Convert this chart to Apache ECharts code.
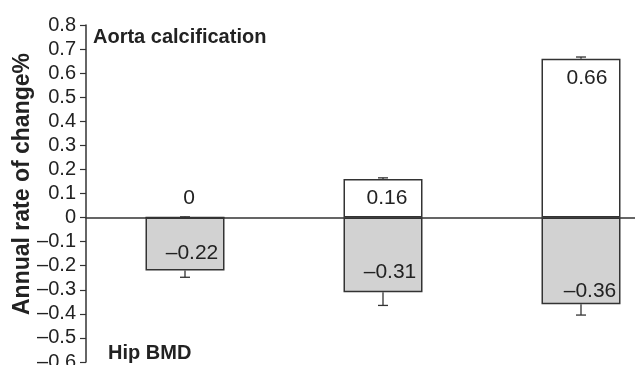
<!DOCTYPE html>
<html><head><meta charset="utf-8">
<script src="https://cdn.jsdelivr.net/npm/echarts@6/dist/echarts.min.js"></script>
<style>html,body{margin:0;padding:0;background:#fff}#c{width:635px;height:365px}</style>
</head><body><div id="c"></div>
<script>
const categories = ['1', '2', '3'];
const aortaValues = [0, 0.16, 0.66];
const aortaErrEnd = [0.003, 0.165, 0.667];
const hipValues = [-0.22, -0.31, -0.36];
const hipErrEnd = [-0.248, -0.365, -0.405];
const yTicks = {min: -0.6, max: 0.8, interval: 0.1};
const yTitle = 'Annual rate of change%';

const fmt = v => Math.abs(v) < 1e-9 ? '0' : (v < 0 ? '\u2013' : '') + Math.abs(v).toFixed(1);
const fmtLabel = v => v === 0 ? '0' : (v < 0 ? '\u2013' : '') + Math.abs(v).toFixed(2);

const aortaLabelCfg = [
  {position: 'top', distance: 8, offset: [4, 0]},
  {position: 'insideTop', distance: 9, offset: [4, 0]},
  {position: 'insideTop', distance: 9, offset: [6, 0]}
];
const hipLabelCfg = [
  {position: 'insideBottom', distance: 7, offset: [7, 0]},
  {position: 'insideBottom', distance: 9, offset: [7, 0]},
  {position: 'insideBottom', distance: 3, offset: [9, 0]}
];

const errData = [];
categories.forEach((c, i) => {
  errData.push([i, aortaValues[i], aortaErrEnd[i]]);
  errData.push([i, hipValues[i], hipErrEnd[i]]);
});

const chart = echarts.init(document.getElementById('c'));
const FF = 'Liberation Sans, Arial, sans-serif';
const labelFont = {fontFamily: FF, fontSize: 21, color: '#222'};
chart.setOption({
  animation: false,
  grid: {left: 86, top: 25, width: 594, height: 337, containLabel: false, outerBoundsMode: 'none'},
  xAxis: {
    type: 'category', data: categories,
    axisLine: {onZero: true, lineStyle: {color: '#333', width: 1.5}},
    axisTick: {show: false}, axisLabel: {show: false}, splitLine: {show: false}
  },
  yAxis: {
    type: 'value', min: yTicks.min, max: yTicks.max, interval: yTicks.interval,
    axisLine: {show: true, lineStyle: {color: '#333', width: 1.5}},
    axisTick: {show: true, length: 6, lineStyle: {color: '#333', width: 1.2}},
    axisLabel: {formatter: fmt, margin: 10, fontFamily: FF, fontSize: 20, color: '#222'},
    splitLine: {show: false}
  },
  series: [
    {
      type: 'bar', name: 'Aorta calcification', barWidth: 79, barGap: '-100%',
      data: aortaValues.map((v, i) => ({value: v, label: Object.assign({show: true}, aortaLabelCfg[i])})),
      itemStyle: {color: '#fff', borderColor: '#333', borderWidth: 1.5},
      label: Object.assign({show: true, formatter: p => fmtLabel(p.value)}, labelFont)
    },
    {
      type: 'bar', name: 'Hip BMD', barWidth: 79, barGap: '-100%',
      data: hipValues.map((v, i) => ({value: v, label: Object.assign({show: true}, hipLabelCfg[i])})),
      itemStyle: {color: '#d2d2d2', borderColor: '#333', borderWidth: 1.5},
      label: Object.assign({show: true, formatter: p => fmtLabel(p.value)}, labelFont)
    },
    {
      type: 'custom', data: errData, z: 5,
      renderItem: (params, api) => {
        const x = api.value(0);
        const a = api.coord([x, api.value(1)]);
        const b = api.coord([x, api.value(2)]);
        const hw = 5;
        return {
          type: 'group',
          children: [
            {type: 'line', shape: {x1: a[0], y1: a[1], x2: b[0], y2: b[1]}, style: {stroke: '#333', lineWidth: 1.3}},
            {type: 'line', shape: {x1: b[0] - hw, y1: b[1], x2: b[0] + hw, y2: b[1]}, style: {stroke: '#333', lineWidth: 1.3}}
          ]
        };
      }
    }
  ],
  graphic: [
    {type: 'text', x: 23, y: 184, rotation: Math.PI / 2,
     style: {text: yTitle, fontFamily: FF, fontWeight: 'bold', fontSize: 23, fill: '#222', align: 'center', verticalAlign: 'middle'}},
    {type: 'text', left: 93, top: 27, style: {text: 'Aorta calcification', fontFamily: FF, fontWeight: 'bold', fontSize: 20, fill: '#222'}},
    {type: 'text', left: 108, top: 343, style: {text: 'Hip BMD', fontFamily: FF, fontWeight: 'bold', fontSize: 20, fill: '#222'}}
  ]
});
</script></body></html>
